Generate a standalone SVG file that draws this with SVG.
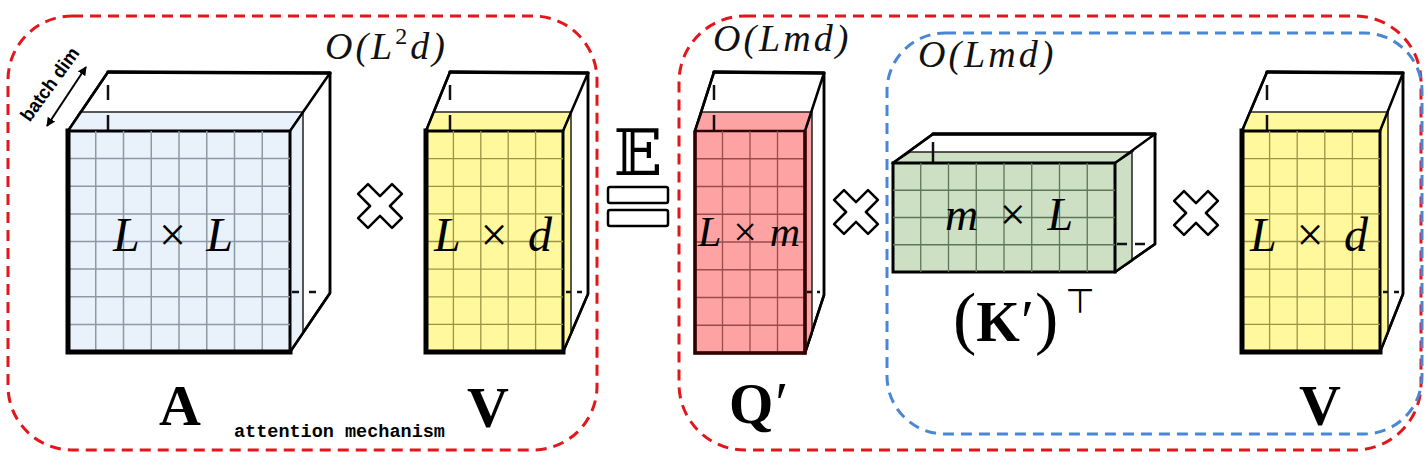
<svg xmlns="http://www.w3.org/2000/svg" width="1428" height="459" viewBox="0 0 1428 459">
<style>
.frame-red{fill:none;stroke:#e3161c;stroke-width:3;stroke-dasharray:11 7}
.frame-blue{fill:none;stroke:#4a86d6;stroke-width:3;stroke-dasharray:11 7}
.back{fill:#fff;stroke:#000;stroke-width:2.5;stroke-linejoin:round}
.edge{fill:none;stroke:#000;stroke-width:2.5;stroke-linecap:round}
.top{fill:none;stroke:#000;stroke-width:3.5;stroke-linecap:round}
.hid{fill:none;stroke:#111;stroke-width:2.5}
.face{stroke:#000;stroke-width:3}
.thick{fill:none;stroke:#000;stroke-width:5;stroke-linecap:square}
.gridA{fill:none;stroke:#8f99a6;stroke-width:1.5}
.gridY{fill:none;stroke:#9c9444;stroke-width:1.3}
.gridR{fill:none;stroke:#9a4c4c;stroke-width:1.3}
.gridG{fill:none;stroke:#5f7558;stroke-width:1.3}
.blueF{fill:#e9f1fa}
.yelF{fill:#fff89c}
.redF{fill:#fea3a3}
.grnF{fill:#cde0c3}
.math{font-family:"Liberation Serif","DejaVu Serif",serif;font-style:italic;fill:#000}
.bold{font-family:"Liberation Serif","DejaVu Serif",serif;font-weight:bold;fill:#000}
.cplx{font-family:"Liberation Serif","DejaVu Serif",serif;font-style:italic;font-size:38px;letter-spacing:3px;fill:#111}
.mono{font-family:"Liberation Mono","DejaVu Sans Mono",monospace;font-weight:bold;font-size:18.5px;fill:#000}
.op{fill:#fff;stroke:#000;stroke-width:2.5;stroke-linejoin:round}
</style>
<defs>
<polygon id="cross" points="-7,-24 7,-24 7,-7 24,-7 24,7 7,7 7,24 -7,24 -7,7 -24,7 -24,-7 -7,-7" transform="rotate(45)"/>
<marker id="ah" viewBox="0 0 10 10" refX="9" refY="5" markerWidth="9" markerHeight="9" orient="auto-start-reverse" markerUnits="userSpaceOnUse">
<path d="M0,0 L10,5 L0,10 z" fill="#000"/>
</marker>
</defs>

<g id="frames">
<rect id="frame-attention" class="frame-red" x="8" y="16" width="589" height="434" rx="64"/>
<rect id="frame-approx" class="frame-red" x="679" y="16" width="742" height="434" rx="66"/>
<rect id="frame-kv" class="frame-blue" x="887" y="33" width="535" height="401" rx="58"/>
</g>

<g id="node-A">
<path class="back" d="M68,131 L108,72 L330,73 L330,293 L290,352 Z"/>
<polygon class="blueF" points="68,131 80,112 303,112 290,131" stroke="#222" stroke-width="1.5"/>
<polygon class="blueF" points="290,131 303,112 303,333 290,352" stroke="#222" stroke-width="1.5"/>
<path class="top" d="M108,72 L330,73"/>
<path class="edge" d="M68,131 L108,72 M290,131 L330,73 M330,73 L330,293 L290,352"/>
<line class="hid" x1="108" y1="85" x2="108" y2="131" stroke-dasharray="15 15"/>
<line class="hid" x1="292" y1="292" x2="320" y2="292" stroke-dasharray="7 10"/>
<rect class="blueF face" x="68" y="131" width="222" height="221"/>
<path class="gridA" d="M95.75,131V352M123.5,131V352M151.25,131V352M179,131V352M206.75,131V352M234.5,131V352M262.25,131V352M68,158.6H290M68,186.3H290M68,213.9H290M68,241.5H290M68,269.1H290M68,296.8H290M68,324.4H290"/>
<path class="thick" d="M68,131 V352 H290"/>
<text class="math" x="173" y="251" font-size="48" text-anchor="middle" textLength="120" lengthAdjust="spacing">L <tspan font-style="normal">×</tspan> L</text>
<text class="bold" x="180" y="425" font-size="58" text-anchor="middle">A</text>
</g>

<g id="node-V1">
<path class="back" d="M426,131 L450,72 L588,73 L588,294 L563,352 Z"/>
<polygon class="yelF" points="426,131 434,112 571,112 563,131" stroke="#222" stroke-width="1.5"/>
<polygon class="yelF" points="563,131 571,112 571,333 563,352" stroke="#222" stroke-width="1.5"/>
<path class="top" d="M450,72 L588,73"/>
<path class="edge" d="M426,131 L450,72 M563,131 L588,73 M588,73 L588,294 L563,352"/>
<line class="hid" x1="450" y1="85" x2="450" y2="131" stroke-dasharray="15 15"/>
<line class="hid" x1="566" y1="292" x2="584" y2="292" stroke-dasharray="5 6"/>
<rect class="yelF face" x="426" y="131" width="137" height="221"/>
<path class="gridY" d="M453.4,131V352M480.8,131V352M508.2,131V352M535.6,131V352M426,158.6H563M426,186.3H563M426,213.9H563M426,241.5H563M426,269.1H563M426,296.8H563M426,324.4H563"/>
<path class="thick" d="M426,131 V352 H563"/>
<text class="math" x="493" y="251" font-size="48" text-anchor="middle" textLength="118" lengthAdjust="spacing">L <tspan font-style="normal">×</tspan> d</text>
<text class="bold" x="488" y="427" font-size="58" text-anchor="middle">V</text>
</g>

<g id="node-Q">
<path class="back" d="M695,131 L714,72 L824,73 L824,295 L805,353 Z"/>
<polygon class="redF" points="695,131 702,112 812,112 805,131" stroke="#222" stroke-width="1.5"/>
<polygon class="redF" points="805,131 812,112 812,334 805,353" stroke="#222" stroke-width="1.5"/>
<path class="top" d="M714,72 L824,73"/>
<path class="edge" d="M695,131 L714,72 M805,131 L824,73 M824,73 L824,295 L805,353"/>
<line class="hid" x1="714" y1="85" x2="714" y2="131" stroke-dasharray="15 15"/>
<line class="hid" x1="807" y1="292" x2="820" y2="292" stroke-dasharray="5 5"/>
<rect class="redF" x="695" y="131" width="110" height="222" stroke="#2a0000" stroke-width="2.5"/>
<path class="gridR" d="M722.5,131V353M750,131V353M777.5,131V353M695,158.75H805M695,186.5H805M695,214.25H805M695,242H805M695,269.75H805M695,297.5H805M695,325.25H805"/>
<path d="M695,131 V353 H805 V131" fill="none" stroke="#300" stroke-width="3.5"/>
<text class="math" x="749" y="246" font-size="42" text-anchor="middle" textLength="102" lengthAdjust="spacing">L <tspan font-style="normal">×</tspan> m</text>
<text class="bold" x="729" y="423" font-size="57">Q<tspan font-weight="normal" font-size="60" dx="2">′</tspan></text>
</g>

<g id="node-K">
<path class="back" d="M893,163 L933,134 L1155,134 L1155,244 L1115,272 Z"/>
<polygon class="grnF" points="893,163 910,152 1132,152 1115,163" stroke="#222" stroke-width="1.5"/>
<polygon class="grnF" points="1115,163 1132,152 1132,261 1115,272" stroke="#222" stroke-width="1.5"/>
<path class="top" d="M933,134 L1155,134"/>
<path class="edge" d="M893,163 L933,134 M1115,163 L1155,134 M1155,134 L1155,244 L1115,272"/>
<line class="hid" x1="933" y1="142" x2="933" y2="163"/>
<line class="hid" x1="1117" y1="244" x2="1146" y2="244" stroke-dasharray="10 8"/>
<rect class="grnF face" x="893" y="163" width="222" height="109"/>
<path class="gridG" d="M920.75,163V272M948.5,163V272M976.25,163V272M1004,163V272M1031.75,163V272M1059.5,163V272M1087.25,163V272M893,190.25H1115M893,217.5H1115M893,244.75H1115"/>
<text class="math" x="1009" y="230" font-size="46" text-anchor="middle" textLength="128" lengthAdjust="spacing">m <tspan font-style="normal">×</tspan> L</text>
<text class="bold" x="953" y="341" font-size="56"><tspan font-weight="normal" font-size="70">(</tspan>K<tspan font-weight="normal" font-size="60" dx="1">′</tspan><tspan font-weight="normal" font-size="70" dx="1">)</tspan></text>
<text x="1080" y="313" font-family="DejaVu Sans, sans-serif" font-size="34" text-anchor="middle" fill="#000">⊤</text>
</g>

<g id="node-V2">
<path class="back" d="M1242,131 L1267,72 L1403,73 L1403,294 L1380,352 Z"/>
<polygon class="yelF" points="1242,131 1250,112 1388,112 1380,131" stroke="#222" stroke-width="1.5"/>
<polygon class="yelF" points="1380,131 1388,112 1388,333 1380,352" stroke="#222" stroke-width="1.5"/>
<path class="top" d="M1267,72 L1403,73"/>
<path class="edge" d="M1242,131 L1267,72 M1380,131 L1403,73 M1403,73 L1403,294 L1380,352"/>
<line class="hid" x1="1267" y1="85" x2="1267" y2="131" stroke-dasharray="15 15"/>
<line class="hid" x1="1383" y1="292" x2="1400" y2="292" stroke-dasharray="5 6"/>
<rect class="yelF face" x="1242" y="131" width="138" height="221"/>
<path class="gridY" d="M1269.6,131V352M1297.2,131V352M1324.8,131V352M1352.4,131V352M1242,158.6H1380M1242,186.3H1380M1242,213.9H1380M1242,241.5H1380M1242,269.1H1380M1242,296.8H1380M1242,324.4H1380"/>
<path class="thick" d="M1242,131 V352 H1380"/>
<text class="math" x="1309" y="251" font-size="48" text-anchor="middle" textLength="118" lengthAdjust="spacing">L <tspan font-style="normal">×</tspan> d</text>
<text class="bold" x="1320" y="425" font-size="58" text-anchor="middle">V</text>
</g>

<g id="operators">
<use href="#cross" class="op" transform="translate(380,206)"/>
<use href="#cross" class="op" transform="translate(856,212)"/>
<use href="#cross" class="op" transform="translate(1196,213)"/>
<text x="638" y="175" font-family="DejaVu Serif, DejaVu Sans, serif" font-size="64" text-anchor="middle" fill="#000">𝔼</text>
<rect class="op" x="608" y="187" width="60" height="16" rx="2" stroke-width="2"/>
<rect class="op" x="608" y="210" width="60" height="16" rx="2" stroke-width="2"/>
</g>

<g id="complexity-labels">
<text class="cplx" x="325" y="59">O(L<tspan font-style="normal" font-size="24" dy="-15">2</tspan><tspan dy="15">d)</tspan></text>
<text class="cplx" x="713" y="51">O(Lmd)</text>
<text class="cplx" x="918" y="67">O(Lmd)</text>
<text class="mono" x="234" y="437">attention mechanism</text>
</g>

<g id="connectors">
<line x1="47" y1="126" x2="86" y2="67" stroke="#000" stroke-width="2" marker-start="url(#ah)" marker-end="url(#ah)"/>
<text x="55" y="88" transform="rotate(-54 55 88)" font-family="Liberation Sans, Arial, sans-serif" font-weight="bold" font-size="19" text-anchor="middle" textLength="86" lengthAdjust="spacingAndGlyphs" fill="#000">batch dim</text>
</g>
</svg>
